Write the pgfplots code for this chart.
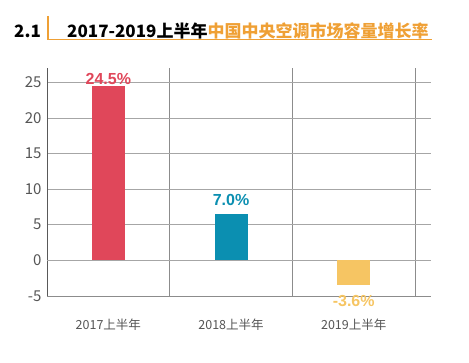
\documentclass[border=0pt]{standalone}
\usepackage{pgfplots}
\pgfplotsset{compat=1.18}
\usepackage{fontspec}
\setmainfont{Noto Sans CJK SC}
\newfontfamily\lab{Liberation Sans}
\definecolor{cred}{HTML}{E0475A}
\definecolor{cblue}{HTML}{0B8FB1}
\definecolor{cyel}{HTML}{F6C563}
\definecolor{corange}{HTML}{EFA035}
\definecolor{tgray}{HTML}{555555}
\begin{document}
\begin{tikzpicture}
\path[use as bounding box] (0pt,0pt) rectangle (469pt,362pt);
% title
\node[anchor=west,font=\fontsize{17}{17}\selectfont\bfseries,inner sep=0pt] at (14pt,331pt) {2.1};
\draw[corange,line width=1.4pt] (48pt,346pt) -- (48pt,322pt);
\draw[corange,line width=0.9pt] (48pt,322.5pt) -- (432pt,322.5pt);
\node[anchor=west,font=\fontsize{17}{17}\selectfont\bfseries,inner sep=0pt] at (67pt,331pt) {2017-2019上半年\textcolor{corange}{中国中央空调市场容量增长率}};
\begin{axis}[
  at={(47pt,66pt)}, anchor=south west,
  scale only axis, width=384pt, height=228pt,
  xmin=-0.5, xmax=2.63, ymin=-5, ymax=27,
  axis x line=bottom, axis y line=left,
  axis line style={-},
  x axis line style={draw=black!45},
  y axis line style={draw=black!65},
  xtick={0,1,2},
  xticklabels={2017上半年,2018上半年,2019上半年},
  minor xtick={0.5,1.5,2.5},
  xminorgrids=true,
  minor grid style={draw=black!45,line width=0.5pt},
  ytick={-5,0,5,10,15,20,25},
  ymajorgrids=true,
  major grid style={draw=black!35,line width=0.6pt},
  extra y ticks={0},
  extra y tick labels={},
  extra y tick style={grid style={draw=black!70,line width=0.7pt}},
  major tick length=0pt, minor tick length=0pt,
  /pgf/number format/assume math mode=true,
  yticklabel style={font=\fontsize{15}{15}\selectfont, text=tgray, xshift=-2pt},
  xticklabel style={font=\fontsize{12.5}{12.5}\selectfont, text=tgray, yshift=-19pt},
  ybar, bar width=33pt, bar shift=0pt,
  clip=false,
]
\addplot[fill=cred, draw=none, nodes near coords, point meta=explicit symbolic,
  every node near coord/.style={font=\lab\bfseries\fontsize{16}{16}\selectfont, text=cred, yshift=-2pt}]
  coordinates {(0,24.5) [24.5\%]};
\addplot[fill=cblue, draw=none, nodes near coords, point meta=explicit symbolic,
  every node near coord/.style={font=\lab\bfseries\fontsize{16}{16}\selectfont, text=cblue, yshift=5pt}]
  coordinates {(1,6.5) [7.0\%]};
\addplot[fill=cyel, draw=none, nodes near coords, point meta=explicit symbolic,
  every node near coord/.style={font=\lab\bfseries\fontsize{16}{16}\selectfont, text=cyel, anchor=north, yshift=-7pt}]
  coordinates {(2,-3.4) [-3.6\%]};
\end{axis}
\end{tikzpicture}
\end{document}
